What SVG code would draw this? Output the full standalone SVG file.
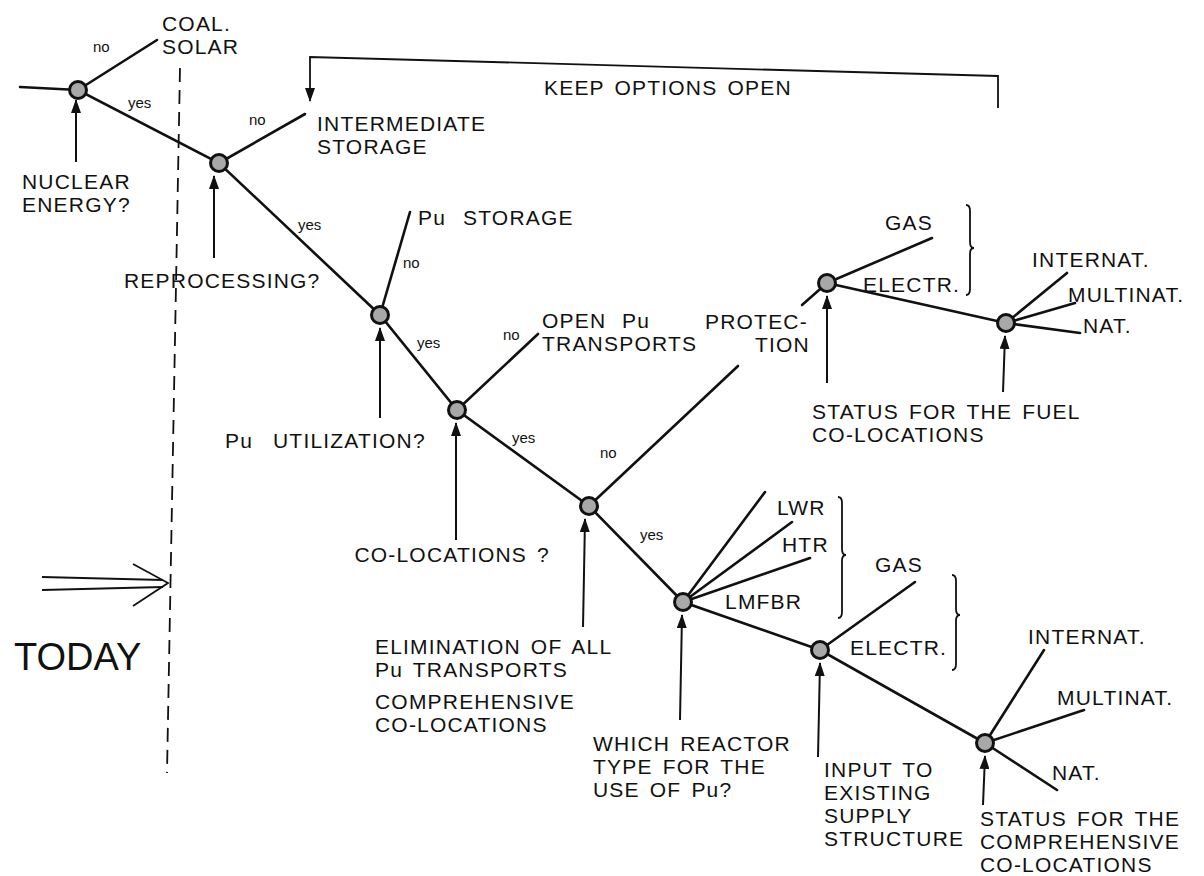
<svg xmlns="http://www.w3.org/2000/svg" width="1204" height="876" viewBox="0 0 1204 876">
  <style>
    .lbl { font-family: "Liberation Sans", Arial, sans-serif; font-size: 21px; letter-spacing: 1.2px; word-spacing: 3px; fill: #111; }
    .sm { font-family: "Liberation Sans", Arial, sans-serif; font-size: 15px; fill: #111; }
    .big { font-family: "Liberation Sans", Arial, sans-serif; font-size: 38px; fill: #111; }
    .edge { stroke: #111; stroke-width: 2.6; fill: none; stroke-linecap: round; }
    .ptr { stroke: #111; stroke-width: 2; fill: none; marker-end: url(#head); }
    .thin { stroke: #111; stroke-width: 1.8; fill: none; }
    .node { fill: #a8a8a8; stroke: #111; stroke-width: 3; }
  </style>
  <defs>
    <marker id="head" viewBox="0 0 14 10" refX="13" refY="5" markerWidth="14" markerHeight="10" markerUnits="userSpaceOnUse" orient="auto">
      <path d="M0,0 L14,5 L0,10 Z" fill="#111"/>
    </marker>
  </defs>
  <rect width="1204" height="876" fill="#fff"/>

  <!-- present-day divider and marker -->
  <g id="today">
    <line class="thin" x1="180" y1="68" x2="167" y2="773" stroke-dasharray="14 8"/>
    <line class="thin" x1="42" y1="577" x2="163" y2="580"/>
    <line class="thin" x1="42" y1="590" x2="163" y2="587"/>
    <polyline class="thin" points="133,564 168,583 133,606"/>
    <text class="big" x="14" y="670">TODAY</text>
  </g>

  <!-- decision tree branches -->
  <g id="connectors">
    <polyline class="edge" points="20,87 78,90 219,163 380,315 457,410 589,506 683,602 820,650 985,743"/>
    <line class="edge" x1="78" y1="90" x2="157" y2="40"/>
    <line class="edge" x1="219" y1="163" x2="305" y2="114"/>
    <line class="edge" x1="380" y1="315" x2="410" y2="212"/>
    <line class="edge" x1="457" y1="410" x2="538" y2="334"/>
    <line class="edge" x1="589" y1="506" x2="738" y2="366"/>
    <line class="edge" x1="683" y1="602" x2="765" y2="492"/>
    <line class="edge" x1="683" y1="602" x2="792" y2="522"/>
    <line class="edge" x1="683" y1="602" x2="810" y2="558"/>
    <line class="edge" x1="820" y1="650" x2="915" y2="582"/>
    <line class="edge" x1="985" y1="743" x2="1044" y2="650"/>
    <line class="edge" x1="985" y1="743" x2="1084" y2="710"/>
    <line class="edge" x1="985" y1="743" x2="1057" y2="790"/>
    <line class="edge" x1="827" y1="283" x2="802" y2="305"/>
    <line class="edge" x1="827" y1="283" x2="932" y2="238"/>
    <line class="edge" x1="827" y1="283" x2="1006" y2="323"/>
    <line class="edge" x1="1006" y1="323" x2="1067" y2="273"/>
    <line class="edge" x1="1006" y1="323" x2="1075" y2="303"/>
    <line class="edge" x1="1006" y1="323" x2="1080" y2="333"/>
    <!-- keep options open loop -->
    <polyline class="thin" points="998,108 998,76 310,57 310,101" marker-end="url(#head)"/>
    <!-- question pointers -->
    <line class="ptr" x1="76" y1="162" x2="76" y2="100"/>
    <line class="ptr" x1="214" y1="258" x2="214" y2="176"/>
    <line class="ptr" x1="380" y1="418" x2="380" y2="328"/>
    <line class="ptr" x1="456" y1="540" x2="456" y2="423"/>
    <line class="ptr" x1="583" y1="627" x2="585" y2="519"/>
    <line class="ptr" x1="680" y1="720" x2="682" y2="615"/>
    <line class="ptr" x1="818" y1="757" x2="820" y2="663"/>
    <line class="ptr" x1="983" y1="805" x2="985" y2="756"/>
    <line class="ptr" x1="827" y1="383" x2="827" y2="296"/>
    <line class="ptr" x1="1003" y1="392" x2="1005" y2="336"/>
    <!-- grouping braces -->
    <path class="thin" d="M838,497 Q842,497 842,503 L842,549 Q842,555 846,555 Q842,555 842,561 L842,612 Q842,618 838,618"/>
    <path class="thin" d="M952,575 Q956,575 956,581 L956,609 Q956,615 960,615 Q956,615 956,621 L956,664 Q956,670 952,670"/>
    <path class="thin" d="M966,205 Q970,205 970,211 L970,242 Q970,248 974,248 Q970,248 970,254 L970,289 Q970,295 966,295"/>
  </g>

  <!-- branch labels -->
  <g id="branch-labels">
    <text class="sm" x="93" y="52">no</text>
    <text class="sm" x="128" y="108">yes</text>
    <text class="sm" x="249" y="125">no</text>
    <text class="sm" x="298" y="230">yes</text>
    <text class="sm" x="403" y="268">no</text>
    <text class="sm" x="417" y="348">yes</text>
    <text class="sm" x="503" y="340">no</text>
    <text class="sm" x="512" y="443">yes</text>
    <text class="sm" x="600" y="458">no</text>
    <text class="sm" x="640" y="540">yes</text>
    <text class="lbl" x="544" y="95">KEEP OPTIONS OPEN</text>
  </g>

  <g id="n1">
    <circle class="node" cx="78" cy="90" r="8.5"/>
    <text class="lbl" x="22" y="189">NUCLEAR</text>
    <text class="lbl" x="22" y="212">ENERGY?</text>
    <text class="lbl" x="162" y="31">COAL.</text>
    <text class="lbl" x="162" y="54">SOLAR</text>
  </g>
  <g id="n2">
    <circle class="node" cx="219" cy="163" r="8.5"/>
    <text class="lbl" x="124" y="288">REPROCESSING?</text>
    <text class="lbl" x="317" y="131">INTERMEDIATE</text>
    <text class="lbl" x="317" y="154">STORAGE</text>
  </g>
  <g id="n3">
    <circle class="node" cx="380" cy="315" r="8.5"/>
    <text class="lbl" y="448"><tspan x="225">Pu</tspan><tspan x="273">UTILIZATION?</tspan></text>
    <text class="lbl" y="225"><tspan x="418">Pu</tspan><tspan x="463">STORAGE</tspan></text>
  </g>
  <g id="n4">
    <circle class="node" cx="457" cy="410" r="8.5"/>
    <text class="lbl" x="550" y="562" text-anchor="end">CO-LOCATIONS ?</text>
    <text class="lbl" y="328"><tspan x="542">OPEN</tspan><tspan x="622">Pu</tspan></text>
    <text class="lbl" x="542" y="351">TRANSPORTS</text>
  </g>
  <g id="n5">
    <circle class="node" cx="589" cy="506" r="8.5"/>
    <text class="lbl" x="375" y="654">ELIMINATION OF ALL</text>
    <text class="lbl" x="375" y="677">Pu TRANSPORTS</text>
    <text class="lbl" x="375" y="709">COMPREHENSIVE</text>
    <text class="lbl" x="375" y="732">CO-LOCATIONS</text>
    <text class="lbl" x="705" y="329">PROTEC-</text>
    <text class="lbl" x="755" y="352">TION</text>
  </g>
  <g id="n6">
    <circle class="node" cx="683" cy="602" r="8.5"/>
    <text class="lbl" x="593" y="751">WHICH REACTOR</text>
    <text class="lbl" x="593" y="774">TYPE FOR THE</text>
    <text class="lbl" x="593" y="797">USE OF Pu?</text>
    <text class="lbl" x="777" y="515">LWR</text>
    <text class="lbl" x="782" y="552">HTR</text>
    <text class="lbl" x="725" y="609">LMFBR</text>
  </g>
  <g id="n7">
    <circle class="node" cx="820" cy="650" r="8.5"/>
    <text class="lbl" x="824" y="777">INPUT TO</text>
    <text class="lbl" x="824" y="800">EXISTING</text>
    <text class="lbl" x="824" y="823">SUPPLY</text>
    <text class="lbl" x="824" y="846">STRUCTURE</text>
    <text class="lbl" x="875" y="572">GAS</text>
    <text class="lbl" x="850" y="655">ELECTR.</text>
  </g>
  <g id="n8">
    <circle class="node" cx="985" cy="743" r="8.5"/>
    <text class="lbl" x="980" y="826">STATUS FOR THE</text>
    <text class="lbl" x="980" y="849">COMPREHENSIVE</text>
    <text class="lbl" x="980" y="872">CO-LOCATIONS</text>
    <text class="lbl" x="1028" y="644">INTERNAT.</text>
    <text class="lbl" x="1057" y="705">MULTINAT.</text>
    <text class="lbl" x="1052" y="780">NAT.</text>
  </g>
  <g id="n9">
    <circle class="node" cx="827" cy="283" r="8.5"/>
    <text class="lbl" x="885" y="230">GAS</text>
    <text class="lbl" x="863" y="292">ELECTR.</text>
  </g>
  <g id="n10">
    <circle class="node" cx="1006" cy="323" r="8.5"/>
    <text class="lbl" x="812" y="419">STATUS FOR THE FUEL</text>
    <text class="lbl" x="812" y="442">CO-LOCATIONS</text>
    <text class="lbl" x="1032" y="267">INTERNAT.</text>
    <text class="lbl" x="1068" y="302">MULTINAT.</text>
    <text class="lbl" x="1083" y="333">NAT.</text>
  </g>
</svg>
